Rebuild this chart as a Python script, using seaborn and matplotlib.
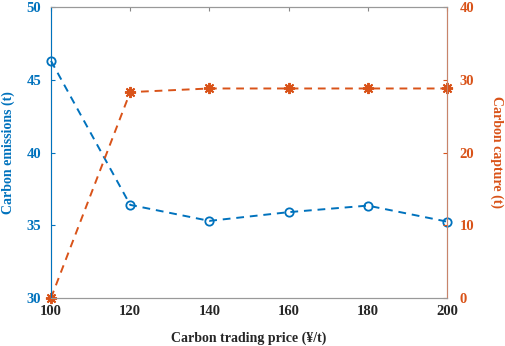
import matplotlib
matplotlib.use("Agg")
import matplotlib.pyplot as plt
import seaborn as sns
import pandas as pd

price = [100, 120, 140, 160, 180, 200]
emissions = [46.3, 36.4, 35.3, 35.9, 36.35, 35.25]
capture = [0.0, 28.3, 28.8, 28.8, 28.8, 28.8]
x_ticks = [100, 120, 140, 160, 180, 200]
left_ticks = [30, 35, 40, 45, 50]
right_ticks = [0, 10, 20, 30, 40]

sns.set_style("white")
plt.rcParams['font.family'] = ['Liberation Serif', 'DejaVu Serif']
plt.rcParams['font.weight'] = 'bold'

blue = "#0072BD"
orange = "#D95319"

df = pd.DataFrame({"price": price, "emissions": emissions, "capture": capture})

fig = plt.figure(figsize=(5.05, 3.46), dpi=100)
ax = fig.add_axes([51/505, 48/346, 396/505, 291/346])
ax2 = ax.twinx()

sns.lineplot(data=df, x="price", y="emissions", ax=ax, color=blue, linestyle=(0, (4, 3)),
             marker="o", markersize=6, markerfacecolor="none", markeredgecolor=blue,
             markeredgewidth=1.3, linewidth=1.4, clip_on=False)
sns.lineplot(data=df, x="price", y="capture", ax=ax2, color=orange, linestyle=(0, (4, 3)),
             marker=(8, 2, 0), markersize=8, markerfacecolor=orange, markeredgecolor=orange,
             markeredgewidth=1.4, linewidth=1.4, clip_on=False)

ax.set_xlim(100, 200)
ax.set_ylim(30, 50)
ax2.set_ylim(0, 40)
ax.set_xticks(x_ticks)
ax.set_yticks(left_ticks)
ax2.set_yticks(right_ticks)

ax.set_xlabel("Carbon trading price (¥/t)", fontsize=10, fontweight='bold', labelpad=10)
ax.set_ylabel("Carbon emissions (t)", fontsize=10, fontweight='bold', color=blue,
              va='center')
ax.yaxis.set_label_coords(-0.108, 0.5)
ax2.set_ylabel("Carbon capture (t)", fontsize=10, fontweight='bold', color=orange,
               rotation=270, va='center')
ax2.yaxis.set_label_coords(1.126, 0.5)

for a in (ax, ax2):
    for s in a.spines.values():
        s.set_color("#999999")
        s.set_linewidth(0.8)
ax2.spines['left'].set_color(blue)
ax2.spines['right'].set_color("#C8846A")

ax.tick_params(axis='x', direction='in', length=3, color="#888888", labelsize=10.5, pad=5,
               top=True)
ax.tick_params(axis='y', direction='in', length=3, colors=blue, labelsize=10.5, pad=7)
ax2.tick_params(axis='y', direction='in', length=3, colors=orange, labelsize=10.5, pad=9)
for lab in ax.get_xticklabels() + ax.get_yticklabels() + ax2.get_yticklabels():
    lab.set_fontweight('bold')

fig.savefig("out.png", dpi=100)
